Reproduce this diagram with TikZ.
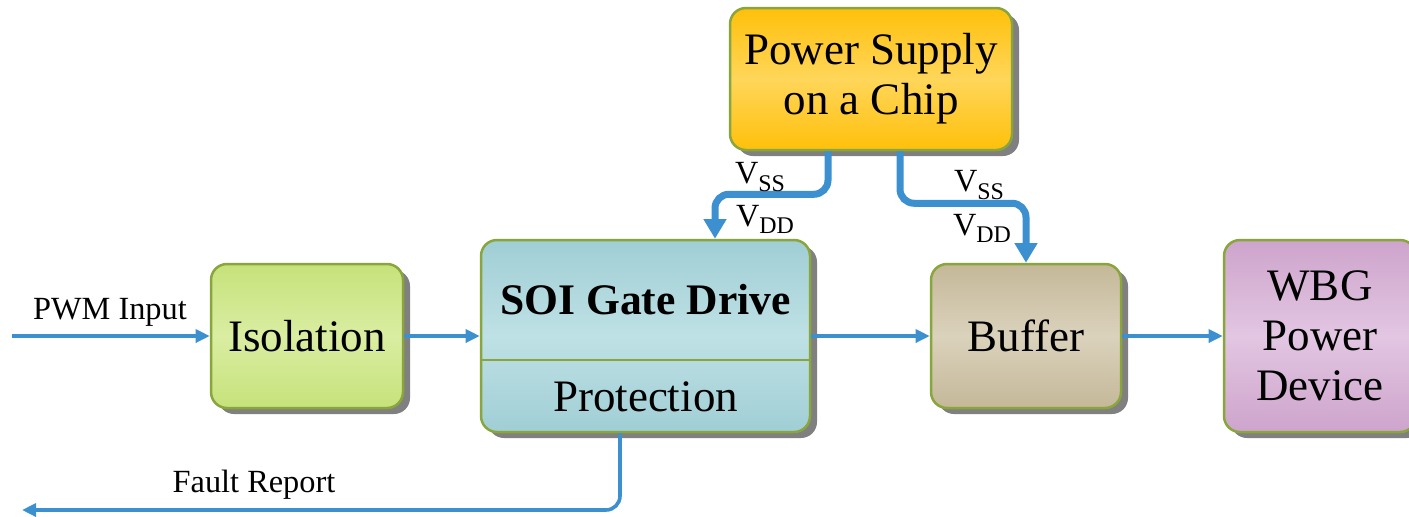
\documentclass[tikz,border=0pt]{standalone}
\usepackage{fontspec}
\setmainfont{Liberation Serif}
\usetikzlibrary{arrows.meta,calc,shadows}

\newdimen\pxu \pxu=0.025cm
\def\railname#1#2{#1\raisebox{-0.22em}{\fontsize{17}{17}\selectfont #2}}

\definecolor{flowblue}{RGB}{60,144,208}
\definecolor{boxrim}{RGB}{136,166,60}
\definecolor{psutop}{RGB}{255,192,10}
\definecolor{psumid}{RGB}{255,214,90}
\definecolor{isotop}{RGB}{198,226,122}
\definecolor{isomid}{RGB}{218,237,162}
\definecolor{soitop}{RGB}{160,206,213}
\definecolor{soimid}{RGB}{190,225,229}
\definecolor{buftop}{RGB}{196,184,152}
\definecolor{bufmid}{RGB}{219,210,189}
\definecolor{wbgtop}{RGB}{206,164,204}
\definecolor{wbgmid}{RGB}{226,198,226}

\tikzset{
	blockbox/.style={draw=boxrim, line width=2.5\pxu, rounded corners=16\pxu, align=center,
		font=\fontsize{32}{35.6}\selectfont,
		drop shadow={shadow xshift=7\pxu, shadow yshift=-6\pxu, fill=black!50, opacity=1}},
	signal/.style={draw=flowblue, line width=3.6\pxu, -{Triangle[length=10pt,width=9.2pt]}},
	supply/.style={draw=flowblue, line width=7\pxu, rounded corners=14\pxu, -{Triangle[length=14pt,width=15.6pt]}},
	tag/.style={font=\fontsize{23}{26}\selectfont, inner sep=0pt},
}

\begin{document}
\begin{tikzpicture}[x=\pxu, y=-\pxu]
			%%%%% START %%%%%
			\useasboundingbox (0,0) rectangle (1409,516);
			
			% blocks
			\node[blockbox, top color=psutop, bottom color=psutop, middle color=psumid,
				minimum width=282\pxu, minimum height=142\pxu] (psu) at (871,79) {Power Supply\\on a Chip};
			\node[blockbox, top color=isotop, bottom color=isotop, middle color=isomid,
				minimum width=192\pxu, minimum height=144\pxu] (iso) at (307,336) {Isolation};
			\node[blockbox, top color=soitop, bottom color=soitop, middle color=soimid,
				minimum width=329\pxu, minimum height=192\pxu] (soi) at (645.5,336) {};
			\node[blockbox, top color=buftop, bottom color=buftop, middle color=bufmid,
				minimum width=190\pxu, minimum height=144\pxu] (buf) at (1026,336) {Buffer};
			\node[blockbox, top color=wbgtop, bottom color=wbgtop, middle color=wbgmid,
				minimum width=192\pxu, minimum height=192\pxu] (wbg) at (1320,336) {WBG\\Power\\Device};
			
			% gate drive split in two
			\draw[draw=boxrim, line width=2.5\pxu] ($(soi.west)+(0,24)$) -- ($(soi.east)+(0,24)$);
			\node[font=\bfseries\fontsize{31}{35}\selectfont] (soititle) at (645.5,300) {SOI Gate Drive};
			\node[font=\fontsize{32}{35.6}\selectfont] (soiprot) at (645.5,397) {Protection};
			
			% signal path
			\coordinate (pwmin) at (12,336);
			\coordinate (faultout) at (22,510);
			\draw[signal] (pwmin) -- (iso.west);
			\draw[signal] (iso.east) -- (soi.west);
			\draw[signal] (soi.east) -- (buf.west);
			\draw[signal] (buf.east) -- (wbg.west);
			\draw[signal, rounded corners=14\pxu] ($(soi.south)+(-25.5,0)$) |- (faultout);
			
			% supply rails
			\draw[supply] ($(psu.south)+(-43,0)$) -- ++(0,43) -| ($(soi.north)+(69.5,0)$);
			\draw[supply] ($(psu.south)+(29,0)$) -- ++(0,52) -| (buf.north);
			
			% labels
			\node[tag] (pwmlabel) at (110,312) {PWM Input};
			\node[tag] (faultlabel) at (254,485) {Fault Report};
			\node[tag] (vssleft) at (760,177) {\railname{V}{SS}};
			\node[tag] (vddleft) at (765,219) {\railname{V}{DD}};
			\node[tag] (vssright) at (979,185) {\railname{V}{SS}};
			\node[tag] (vddright) at (982,228) {\railname{V}{DD}};
			
			%%%%% END %%%%%
\end{tikzpicture}
\end{document}
